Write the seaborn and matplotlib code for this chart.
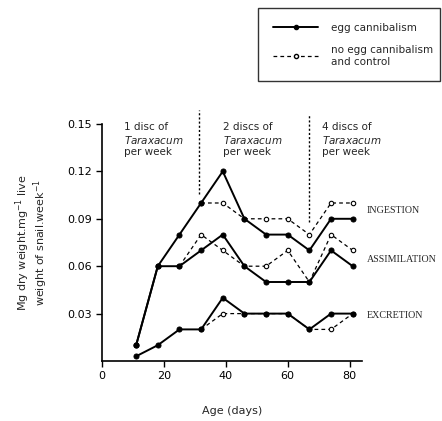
import matplotlib
matplotlib.use("Agg")
import matplotlib.pyplot as plt
from matplotlib.lines import Line2D
import seaborn as sns

# ---- data ----
days = [11, 18, 25, 32, 39, 46, 53, 60, 67, 74, 81]
ingestion_egg = [0.01, 0.06, 0.08, 0.10, 0.12, 0.09, 0.08, 0.08, 0.07, 0.09, 0.09]
assimilation_egg = [0.01, 0.06, 0.06, 0.07, 0.08, 0.06, 0.05, 0.05, 0.05, 0.07, 0.06]
excretion_egg = [0.003, 0.01, 0.02, 0.02, 0.04, 0.03, 0.03, 0.03, 0.02, 0.03, 0.03]

days_ing_ctrl = [32, 39, 46, 53, 60, 67, 74, 81]
ingestion_ctrl = [0.10, 0.10, 0.09, 0.09, 0.09, 0.08, 0.10, 0.10]
days_ass_ctrl = [25, 32, 39, 46, 53, 60, 67, 74, 81]
assimilation_ctrl = [0.06, 0.08, 0.07, 0.06, 0.06, 0.07, 0.05, 0.08, 0.07]
days_exc_ctrl = [32, 39, 46, 53, 60, 67, 74, 81]
excretion_ctrl = [0.02, 0.03, 0.03, 0.03, 0.03, 0.02, 0.02, 0.03]

x_ticks = [0, 20, 40, 60, 80]
y_ticks = [0.03, 0.06, 0.09, 0.12, 0.15]
y_tick_labels = ["0.03", "0.06", "0.09", "0.12", "0.15"]
period_bounds = [31.3, 66.8]
period_labels = ["1 disc of\n$\\it{Taraxacum}$\nper week",
                 "2 discs of\n$\\it{Taraxacum}$\nper week",
                 "4 discs of\n$\\it{Taraxacum}$\nper week"]
period_label_x = [7, 39, 71]
series_names = ["INGESTION", "ASSIMILATION", "EXCRETION"]
legend_labels = ["egg cannibalism", "no egg cannibalism\nand control"]

sns.set_style("white")
plt.rcParams['font.family'] = ['DejaVu Sans']

fig = plt.figure(figsize=(4.42, 4.21), dpi=100)
ax = fig.add_axes([0.231, 0.1425, 0.588, 0.563])

ctrl_sets = [(days_ing_ctrl, ingestion_ctrl), (days_ass_ctrl, assimilation_ctrl),
             (days_exc_ctrl, excretion_ctrl)]
egg_sets = [ingestion_egg, assimilation_egg, excretion_egg]

for dx, vy in ctrl_sets:
    sns.lineplot(x=dx, y=vy, ax=ax, color="black", lw=0.9, marker="o", markersize=3.2,
                 markerfacecolor="white", markeredgecolor="black", markeredgewidth=0.8,
                 linestyle=(0, (3, 2.5)), zorder=2)
for vy in egg_sets:
    sns.lineplot(x=days, y=vy, ax=ax, color="black", lw=1.4, marker="o", markersize=3.6,
                 markerfacecolor="black", markeredgecolor="black", zorder=3)

# period separators
ax.plot([period_bounds[0]] * 2, [0.106, 0.159], color="black", lw=1, ls=(0, (1.5, 1.5)),
        clip_on=False)
ax.plot([period_bounds[1]] * 2, [0.088, 0.156], color="black", lw=1, ls=(0, (1.5, 1.5)),
        clip_on=False)

for xl, lab in zip(period_label_x, period_labels):
    ax.text(xl, 0.151, lab, fontsize=7.5, va="top", ha="left", linespacing=1.15)

# right-side series labels
label_y = [0.0955, 0.0645, 0.029]
for name, yl in zip(series_names, label_y):
    ax.text(85.5, yl, name, fontsize=7.2, family="Liberation Serif", va="center", ha="left",
            clip_on=False)

ax.set_xlim(0, 84)
ax.set_ylim(0, 0.15)
ax.set_xticks(x_ticks)
ax.set_xticklabels([str(t) for t in x_ticks])
ax.set_yticks(y_ticks)
ax.set_yticklabels(y_tick_labels)
ax.tick_params(axis="both", direction="out", length=4, width=1, labelsize=8, colors="black",
               left=True, bottom=True)
for s in ["top", "right"]:
    ax.spines[s].set_visible(False)
for s in ["left", "bottom"]:
    ax.spines[s].set_color("black")
    ax.spines[s].set_linewidth(1.2)

ax.set_xlabel("Age (days)", fontsize=8, labelpad=18)
ax.set_ylabel("Mg dry weight.mg$^{-1}$ live\nweight of snail.week$^{-1}$", fontsize=8,
              labelpad=12, linespacing=1.0)

# legend
h1 = Line2D([], [], color="black", lw=1.4, marker="o", markersize=3, markerfacecolor="black")
h2 = Line2D([], [], color="black", lw=0.9, ls=(0, (3, 2.5)), marker="o", markersize=3,
            markerfacecolor="white", markeredgecolor="black")
leg = fig.legend([h1, h2], legend_labels, loc="upper left",
                 bbox_to_anchor=(258 / 442, 1 - 78 / 421, 182 / 442, 70 / 421),
                 mode="expand", borderaxespad=0, numpoints=1,
                 frameon=True, fancybox=False, edgecolor="black", fontsize=7.5,
                 handlelength=4.4, borderpad=1.4, labelspacing=1.2, handletextpad=1.2)
leg.get_frame().set_linewidth(1.0)

fig.savefig("out.png", dpi=100)
